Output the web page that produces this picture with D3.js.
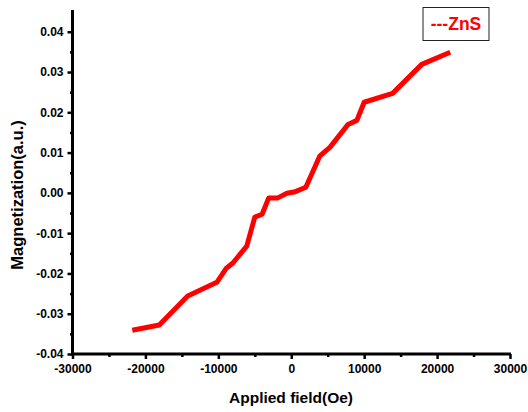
<html>
<head>
<meta charset="utf-8">
<style>
  body { margin: 0; background: #fff; }
  text { font-family: Arial, "Liberation Sans", sans-serif; font-weight: bold; }
</style>
</head>
<body>
<svg id="chart"></svg>
<script src="https://d3js.org/d3.v7.min.js"></script>
<script>
// field (Oe) and magnetization
var fieldOe = [-21800, -18100, -14200, -10200, -8900, -8000, -6100, -5000, -4000, -3100, -1900,
               -600, 400, 2000, 3900, 5300, 7800, 9000, 10000, 13900, 17900, 21800]
var magnetization = [-0.0341, -0.0328, -0.0256, -0.0222, -0.0187, -0.0174, -0.0132, -0.0060, -0.0053,
                     -0.0013, -0.0013, -0.0001, 0.0002, 0.0014, 0.0091, 0.0113, 0.0170, 0.0180,
                     0.0225, 0.0247, 0.0319, 0.0349]
var xTicks = [-30000, -20000, -10000, 0, 10000, 20000, 30000]
var xMinor = [-25000, -15000, -5000, 5000, 15000, 25000]
var yTicks = [-0.04, -0.03, -0.02, -0.01, 0, 0.01, 0.02, 0.03, 0.04]
var yMinor = [-0.035, -0.025, -0.015, -0.005, 0.005, 0.015, 0.025, 0.035]
var legendLabel = '---ZnS'

var width = 528, height = 412

var svg = d3.select('#chart').attr('width', width).attr('height', height)

var x = d3.scaleLinear().domain([-30000, 30000]).range([72.5, 510])
var y = d3.scaleLinear().domain([-0.04, 0.0454]).range([354, 10])

// plain hyphen for negatives, like the original
function hyphen(fmt) {
    var f = d3.format(fmt)
    return function(d) { return f(d).replace('\u2212', '-') }
}

var points = fieldOe.map(function(f, i) { return [f, magnetization[i]] })

// curve first, axes on top
svg.append('path')
   .datum(points)
   .attr('fill', 'none')
   .attr('stroke', '#ff0000')
   .attr('stroke-width', 5)
   .attr('stroke-linejoin', 'round')
   .attr('d', d3.line().x(function(d) { return x(d[0]) }).y(function(d) { return y(d[1]) }))

// x axis
var xAxis = svg.append('g').attr('transform', 'translate(0,354)')
xAxis.call(d3.axisBottom(x).tickValues(xTicks).tickSize(5).tickPadding(5).tickFormat(hyphen('d')))
xAxis.append('g').call(d3.axisBottom(x).tickValues(xMinor).tickSize(3).tickFormat(''))
xAxis.selectAll('.domain').remove()
xAxis.selectAll('line').attr('stroke', '#000').attr('stroke-width', 2.5)
xAxis.selectAll('text').attr('fill', '#000').style('font-size', '12px')

// y axis
var yAxis = svg.append('g').attr('transform', 'translate(72.5,0)')
yAxis.call(d3.axisLeft(y).tickValues(yTicks).tickSize(5).tickPadding(4).tickFormat(hyphen('.2f')))
yAxis.append('g').call(d3.axisLeft(y).tickValues(yMinor).tickSize(2.5).tickFormat(''))
yAxis.selectAll('.domain').remove()
yAxis.selectAll('line').attr('stroke', '#000').attr('stroke-width', 2.5)
yAxis.selectAll('text').attr('fill', '#000').style('font-size', '12px')

// axis lines
svg.append('line')
   .attr('x1', x(-30000)).attr('x2', x(30000) + 1)
   .attr('y1', y(-0.04)).attr('y2', y(-0.04))
   .attr('stroke', '#000').attr('stroke-width', 3)
svg.append('line')
   .attr('x1', x(-30000)).attr('x2', x(-30000))
   .attr('y1', y(-0.04) + 1.5).attr('y2', 10)
   .attr('stroke', '#000').attr('stroke-width', 3)

// titles
svg.append('text')
   .attr('x', 291).attr('y', 403)
   .attr('text-anchor', 'middle')
   .style('font-size', '15.5px')
   .text('Applied field(Oe)')

svg.append('text')
   .attr('transform', 'translate(23,195) rotate(-90)')
   .attr('text-anchor', 'middle')
   .style('font-size', '16.5px')
   .text('Magnetization(a.u.)')

// legend box
svg.append('rect')
   .attr('x', 423).attr('y', 7.5).attr('width', 66).attr('height', 33)
   .attr('fill', '#fff').attr('stroke', '#222').attr('stroke-width', 1)
svg.append('text')
   .attr('x', 456).attr('y', 30)
   .attr('text-anchor', 'middle')
   .attr('fill', '#ff0000')
   .style('font-size', '17.5px')
   .text(legendLabel)
</script>
</body>
</html>
